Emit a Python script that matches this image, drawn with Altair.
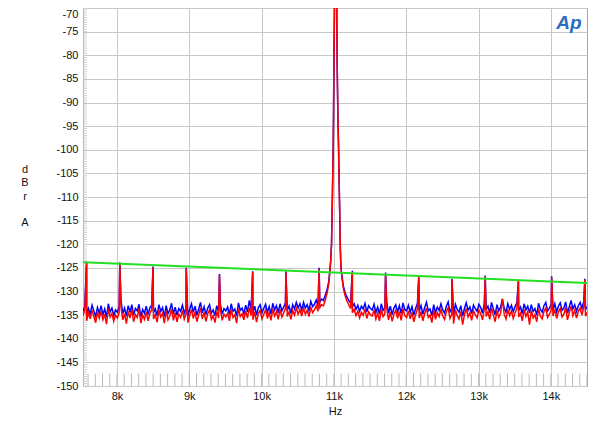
import altair as alt
import numpy as np
import pandas as pd

# ---------------- data ----------------
grid_start = 7530
grid_step = 25  # Hz between readings below (280 readings, 7530 .. 14505 Hz)

blue_noise = [
    -134.2,-133.1,-135.0,-133.6,-134.8,-132.9,-134.1,-135.3,-133.4,-134.6,-133.0,-134.9,-133.7,-135.5,-132.6,-134.3,-133.5,-135.1,-133.9,-134.4,
    -133.2,-131.8,-134.7,-133.5,-135.2,-133.0,-134.4,-132.8,-135.0,-133.6,-134.1,-132.7,-135.4,-133.8,-134.6,-133.1,-134.9,-133.4,-132.9,-134.5,
    -133.7,-135.1,-132.8,-134.2,-133.4,-135.3,-133.0,-134.7,-133.9,-132.5,-134.8,-133.3,-135.0,-133.6,-134.2,-132.9,-134.6,-133.5,-135.2,-133.8,
    -132.6,-134.4,-133.1,-135.0,-133.7,-132.3,-134.5,-133.2,-134.9,-133.5,-132.8,-134.6,-133.9,-135.1,-133.0,-134.3,-132.7,-134.8,-133.6,-134.1,
    -133.3,-134.9,-132.6,-134.2,-133.7,-135.2,-132.4,-134.0,-133.5,-134.7,-132.9,-134.3,-131.9,-133.8,-134.6,-133.1,-135.0,-133.4,-132.8,-134.5,
    -133.6,-132.7,-134.4,-133.2,-134.8,-132.5,-133.9,-133.0,-134.5,-132.6,-134.1,-133.3,-132.4,-134.0,-133.1,-134.6,-132.8,-133.7,-132.3,-133.5,
    -132.6,-133.9,-132.3,-133.5,-132.8,-134.0,-132.1,-133.2,-132.7,-131.8,-133.0,-132.2,-131.6,-131.9,-130.8,-129.6,-127.8,-123.5,-109.0,-74.0,
    -30.0,-93.0,-113.0,-126.0,-128.8,-130.3,-131.2,-131.9,-132.4,-133.2,-132.6,-133.8,-132.9,-134.2,-133.1,-133.7,-132.5,-134.3,-133.0,-133.6,
    -133.9,-132.7,-134.5,-133.3,-134.8,-132.6,-134.0,-133.4,-132.2,-134.6,-133.1,-134.9,-133.5,-132.8,-134.3,-133.0,-134.7,-132.4,-133.8,-134.1,
    -132.9,-134.4,-133.2,-135.0,-133.6,-132.5,-134.2,-133.0,-134.8,-133.4,-132.3,-134.1,-133.7,-135.1,-132.8,-134.5,-133.3,-134.0,-132.6,-133.9,
    -134.6,-133.1,-132.2,-134.3,-133.5,-134.9,-132.7,-133.8,-134.4,-133.0,-135.2,-133.6,-132.4,-134.0,-133.3,-134.7,-132.9,-133.6,-134.2,-132.7,
    -133.4,-134.6,-132.5,-133.9,-133.1,-134.5,-132.3,-133.7,-134.9,-132.8,-134.1,-133.3,-131.6,-133.5,-134.4,-132.6,-133.8,-132.9,-134.3,-133.2,
    -132.4,-134.0,-133.3,-134.7,-132.6,-133.9,-133.1,-134.5,-132.8,-134.2,-133.6,-135.0,-132.5,-133.8,-134.4,-133.0,-132.3,-134.1,-133.5,-132.7,
    -133.9,-132.6,-134.3,-133.1,-132.4,-134.0,-133.5,-132.2,-134.6,-133.2,-131.9,-133.7,-132.8,-134.2,-133.0,-132.3,-133.6,-132.1,-133.8,-133.2,
]

red_noise = [
    -135.1,-134.0,-136.2,-134.5,-135.8,-133.9,-135.3,-136.6,-134.4,-135.7,-134.1,-136.0,-134.8,-136.9,-133.6,-135.4,-134.6,-136.3,-135.0,-135.6,
    -134.5,-133.2,-136.0,-134.7,-136.8,-134.2,-135.6,-133.8,-136.4,-134.9,-135.5,-133.6,-136.7,-135.0,-135.9,-134.3,-136.2,-134.6,-133.9,-135.8,
    -134.9,-136.5,-133.9,-135.4,-134.6,-136.7,-134.1,-136.0,-135.2,-133.7,-136.1,-134.5,-136.4,-134.8,-135.5,-134.0,-135.9,-134.7,-136.6,-135.1,
    -133.8,-135.7,-134.3,-136.4,-134.9,-133.5,-135.8,-134.4,-136.3,-134.7,-133.9,-135.9,-135.1,-136.6,-134.2,-135.6,-133.8,-136.1,-134.8,-135.4,
    -134.6,-136.2,-133.8,-135.5,-134.9,-136.7,-133.6,-135.3,-134.7,-136.0,-134.1,-135.6,-133.4,-135.1,-136.0,-134.3,-136.5,-134.6,-134.0,-135.8,
    -134.8,-133.9,-135.7,-134.4,-136.1,-133.7,-135.2,-134.2,-135.9,-133.8,-135.4,-134.5,-133.6,-135.3,-134.3,-135.9,-134.0,-135.0,-133.5,-134.8,
    -133.8,-135.2,-133.5,-134.8,-134.0,-135.3,-133.3,-134.5,-133.9,-133.0,-134.2,-133.4,-132.8,-133.0,-131.8,-130.4,-128.3,-123.8,-109.0,-74.0,
    -30.0,-93.0,-113.0,-126.3,-129.3,-130.9,-132.0,-132.8,-133.6,-134.5,-133.8,-135.1,-134.2,-135.6,-134.4,-135.0,-133.7,-135.7,-134.3,-134.9,
    -135.2,-133.9,-135.8,-134.6,-136.2,-133.8,-135.3,-134.7,-133.4,-136.0,-134.3,-136.3,-134.8,-134.0,-135.7,-134.2,-136.1,-133.6,-135.1,-135.5,
    -134.1,-135.8,-134.4,-136.4,-134.9,-133.7,-135.6,-134.2,-136.2,-134.7,-133.5,-135.5,-135.0,-136.6,-134.0,-135.9,-134.5,-135.3,-133.8,-135.2,
    -135.9,-134.3,-133.4,-135.7,-134.8,-136.8,-133.9,-135.1,-135.8,-134.2,-137.0,-134.9,-133.6,-135.4,-134.5,-136.1,-134.1,-134.9,-135.6,-133.9,
    -134.7,-136.0,-133.7,-135.3,-134.3,-135.9,-133.5,-135.0,-136.4,-134.0,-135.5,-134.6,-131.5,-134.8,-135.8,-133.8,-135.1,-134.1,-135.7,-134.5,
    -133.6,-135.4,-134.6,-136.2,-133.8,-135.3,-134.3,-137.0,-134.0,-135.6,-134.9,-136.4,-133.7,-135.2,-135.8,-134.2,-133.5,-135.5,-134.8,-133.9,
    -135.2,-133.8,-135.7,-134.3,-133.6,-135.4,-134.8,-133.4,-136.0,-134.5,-133.1,-135.1,-134.0,-135.6,-134.2,-133.5,-135.0,-133.3,-135.2,-134.4,
]

# jitter sidebands (Hz) and their levels (dBrA)
spike_freq = [7579.7, 8039.1, 8498.4, 8957.8, 9417.2, 9876.6, 10335.9, 10795.3,
              11254.7, 11714.1, 12173.4, 12632.8, 13092.2, 13551.6, 14010.9, 14470.3]
spike_blue = [-123.7, -123.8, -124.7, -125.0, -126.3, -125.7, -125.7, -125.0,
              -125.6, -126.0, -126.8, -127.3, -126.6, -127.5, -126.8, -127.3]
spike_red = [-123.9, -124.1, -124.9, -125.2, -126.5, -125.9, -125.9, -125.2,
             -125.9, -126.3, -127.0, -127.5, -126.8, -127.7, -127.0, -127.5]

# main tone (11.025 kHz) shape
core_freq = [10967, 10990, 10995, 11000, 11010, 11015, 11025, 11035, 11040, 11045,
             11065, 11070, 11087, 11096]
core_db = [-120.0, -100.0, -92.0, -82.0, -66.0, -50.0, -1.0, -58.0, -72.0, -82.0,
           -100.0, -105.0, -120.0, -124.5]

limit_freq = [7530, 14500]
limit_db = [-123.8, -128.2]

x_ticks = [8000, 9000, 10000, 11000, 12000, 13000, 14000]
y_ticks = list(range(-150, -65, 5))
x_minor = list(range(7600, 14600, 100))
y_minor = [v / 2 for v in range(-300, -139)]
y_title_top = ["d", "B", "r"]
y_title_bottom = "A"

# ---------------- build tables ----------------
grid_freq = [grid_start + grid_step * i for i in range(len(blue_noise))]


def series(noise, spikes):
    df = pd.DataFrame({
        "f": grid_freq + spike_freq + core_freq,
        "db": noise + spikes + core_db,
    })
    return df.sort_values("f").reset_index(drop=True)


blue_df = series(blue_noise, spike_blue)
red_df = series(red_noise, spike_red)
limit_df = pd.DataFrame({"f": limit_freq, "db": limit_db})
xminor_df = pd.DataFrame({"f": x_minor})
yminor_df = pd.DataFrame({"db": y_minor})

FONT = "Liberation Sans"
xscale = alt.Scale(domain=[7530, 14500], nice=False, zero=False)
yscale = alt.Scale(domain=[-150, -70], nice=False, zero=False)

x_axis = alt.Axis(values=x_ticks, labelExpr="datum.value / 1000 + 'k'", title="Hz",
                  grid=True, gridColor="#c8c8c8", gridWidth=1, ticks=False, domain=False,
                  labelFont=FONT, labelFontSize=11, labelColor="#111", labelPadding=4,
                  labelOverlap=False,
                  titleFont=FONT, titleFontSize=11, titleFontWeight="normal",
                  titleColor="#111", titlePadding=4)
y_axis = alt.Axis(values=y_ticks, labelExpr="'-' + abs(datum.value)",
                  title=None, grid=True, tickCount=17,
                  gridColor="#c8c8c8", gridWidth=1, ticks=False, domain=False,
                  labelFont=FONT, labelFontSize=11, labelColor="#111", labelPadding=5,
                  labelOverlap=False, labelBound=False,
                  labelBaseline=alt.condition("datum.value == -70", alt.value("top"), alt.value("middle")))

X = alt.X("f:Q", scale=xscale, axis=x_axis)
Y = alt.Y("db:Q", scale=yscale, axis=y_axis)

xminor = alt.Chart(xminor_df).mark_rule(color="#bbbbbb", strokeWidth=1, clip=True).encode(
    x=X,
    y=alt.datum(-150, scale=yscale, axis=y_axis),
    y2=alt.datum(-147.4),
)
yminor = alt.Chart(yminor_df).mark_rule(color="#cfcfcf", strokeWidth=1, clip=True).encode(
    y=Y,
    x=alt.datum(7530, scale=xscale, axis=x_axis),
    x2=alt.datum(7585),
)
blue = alt.Chart(blue_df).mark_line(color="#0000ff", strokeWidth=1.5, clip=True).encode(x=X, y=Y)
red = alt.Chart(red_df).mark_line(color="#ff0000", strokeWidth=1.5, clip=True).encode(x=X, y=Y)
limit = alt.Chart(limit_df).mark_line(color="#22e022", strokeWidth=2, clip=True).encode(x=X, y=Y)

one = pd.DataFrame({"k": [0]})
ytitle_top = alt.Chart(one).mark_text(
    text=y_title_top, font=FONT, fontSize=11, color="#111", align="center",
    baseline="alphabetic", lineHeight=13.3,
).encode(x=alt.value(-58), y=alt.value(165))
ytitle_bottom = alt.Chart(one).mark_text(
    text=y_title_bottom, font=FONT, fontSize=11, color="#111", align="center",
    baseline="alphabetic",
).encode(x=alt.value(-58), y=alt.value(218))

logo = alt.Chart(pd.DataFrame({"t": ["Ap"]})).mark_text(
    font=FONT, fontSize=19, fontStyle="italic", fontWeight="bold", color="#2a6cc0",
    align="center", baseline="middle",
).encode(text="t:N", x=alt.value(486), y=alt.value(15))

chart = alt.layer(xminor, yminor, blue, red, limit, ytitle_top, ytitle_bottom, logo).properties(
    width=504, height=378,
    autosize=alt.AutoSizeParams(type="none"),
    padding={"left": 75, "top": 0, "right": 5, "bottom": 40},
).configure_view(stroke="#a8a8a8", strokeWidth=1)

chart.save("out.html", embed_options={"renderer": "svg", "actions": False})
